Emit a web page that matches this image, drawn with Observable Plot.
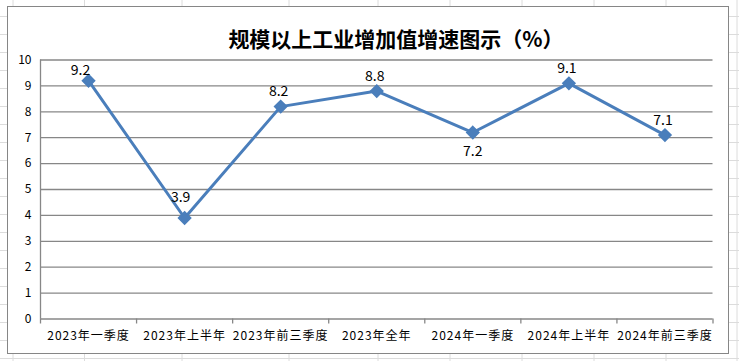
<!DOCTYPE html>
<html>
<head>
<meta charset="utf-8">
<script src="https://cdn.jsdelivr.net/npm/d3@7"></script>
<script src="https://cdn.jsdelivr.net/npm/@observablehq/plot@0.6"></script>
<style>
  html, body { margin: 0; padding: 0; background: #fff; }
  #sheet { position: relative; width: 739px; height: 361px; overflow: hidden; background: #fff; }
  #grid { position: absolute; left: 0; top: 0; }
  #box { position: absolute; left: 7px; top: 6px; width: 722px; height: 348px; box-sizing: border-box;
         border: 1.5px solid #868686; background: #fff; }
  #title { height: 40px; box-sizing: border-box; padding-top: 19px; padding-left: 56px; text-align: center;
           font-family: "Noto Sans CJK SC", sans-serif; font-weight: bold; font-size: 21px; line-height: 24px; color: #000; white-space: nowrap; }
  #chart svg { display: block; overflow: visible; }
  #chart svg g[aria-label="x-axis tick label"] text { letter-spacing: 1px; }
</style>
</head>
<body>
<div id="sheet">
  <svg id="grid" width="739" height="361"></svg>
  <div id="box">
    <div id="title">规模以上工业增加值增速图示（%）</div>
    <div id="chart"></div>
  </div>
</div>
<script>
const categories = ["2023年一季度", "2023年上半年", "2023年前三季度", "2023年全年", "2024年一季度", "2024年上半年", "2024年前三季度"];
const growth = [9.2, 3.9, 8.2, 8.8, 7.2, 9.1, 7.1];
const yTicks = [0, 1, 2, 3, 4, 5, 6, 7, 8, 9, 10];

// label placement (style only)
const labelOffset = {
  "2023年一季度": [-8, -10],
  "2023年上半年": [-4, -20],
  "2024年一季度": [0, 19]
};

// spreadsheet background grid (decoration)
const g = d3.select("#grid");
const colX = [13, 84.5, 182, 289, 378, 450, 522, 594, 666, 737];
for (let y = 16.5; y < 361; y += 18) g.append("line").attr("x1", 0).attr("x2", 739).attr("y1", y).attr("y2", y).attr("stroke", "#dcdcdc");
for (const x of colX) g.append("line").attr("x1", x).attr("x2", x).attr("y1", 0).attr("y2", 361).attr("stroke", "#dcdcdc");

const data = categories.map((c, i) => ({category: c, idx: i, value: growth[i]}));
const blue = "#4a7ebb";
const fontFam = "'Noto Sans CJK SC', 'Liberation Sans', sans-serif";

const labelMarks = data.map(d => {
  const [dx, dy] = labelOffset[d.category] || [-2, -15];
  return Plot.text([d], {x: d => d.idx + 0.5, y: "value", text: d => d.value.toFixed(1), dx, dy, fontSize: 14, fill: "#000"});
});

const chart = Plot.plot({
  width: 719,
  height: 305,
  marginLeft: 32,
  marginRight: 14.5,
  marginTop: 12.5,
  marginBottom: 33.5,
  style: {fontFamily: fontFam, fontSize: "12px", color: "#000", background: "transparent"},
  x: {type: "linear", domain: [0, categories.length], axis: null},
  y: {type: "linear", domain: [0, 10], axis: null},
  marks: [
    Plot.ruleY(yTicks.filter(d => d > 0), {stroke: "#878787", strokeWidth: 1.3}),
    Plot.ruleY([0], {stroke: "#878787", strokeWidth: 1.3}),
    Plot.ruleX([0], {y1: 0, y2: 10, stroke: "#878787", strokeWidth: 1.3}),
    Plot.axisX(d3.range(categories.length + 1), {tickSize: 5, tickFormat: () => "", stroke: "#878787", strokeWidth: 1.3, label: null}),
    Plot.axisY(yTicks, {tickSize: 0, tickPadding: 9, fontSize: 12, tickFormat: d => String(d), label: null}),
    Plot.axisX(categories.map((c, i) => i + 0.5), {tickSize: 0, tickPadding: 12, fontSize: 12, tickFormat: d => categories[Math.floor(d)], label: null}),
    Plot.line(data, {x: d => d.idx + 0.5, y: "value", stroke: blue, strokeWidth: 3}),
    Plot.dot(data, {x: d => d.idx + 0.5, y: "value", symbol: "diamond2", r: 5.5, fill: blue, stroke: blue}),
    ...labelMarks
  ]
});
document.getElementById("chart").append(chart);
</script>
</body>
</html>
